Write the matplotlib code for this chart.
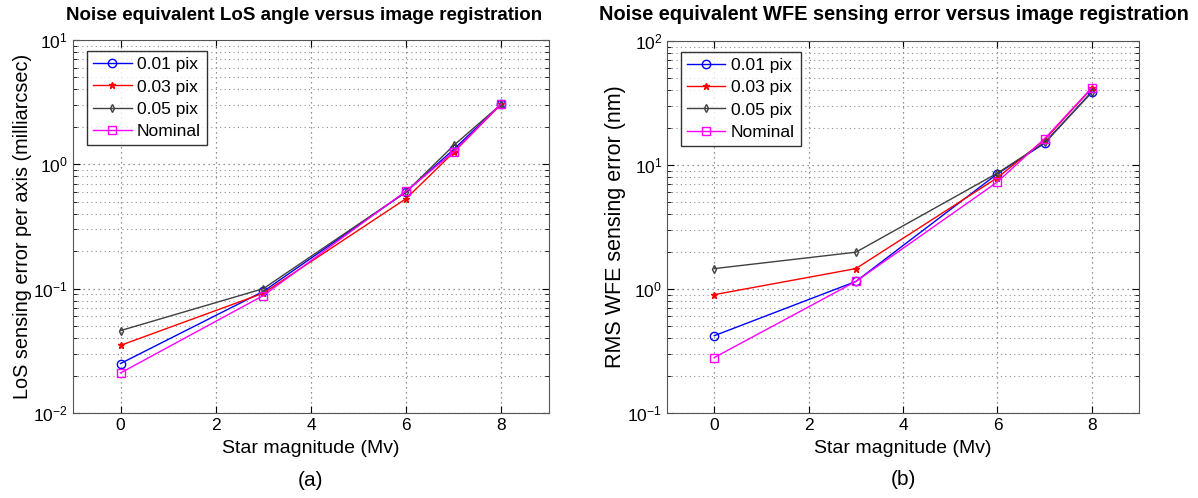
import matplotlib
matplotlib.use("Agg")
import matplotlib.pyplot as plt
from matplotlib.ticker import LogLocator, NullFormatter

plt.rcParams["font.family"] = ["Liberation Sans", "DejaVu Sans"]
plt.rcParams["mathtext.default"] = "regular"

# star magnitudes (x)
mags = [0, 3, 6, 7, 8]
labels = ["0.01 pix", "0.03 pix", "0.05 pix", "Nominal"]

# (a) LoS sensing error per axis (milliarcsec)
los_001 = [0.025, 0.095, 0.60, 1.32, 3.05]
los_003 = [0.035, 0.092, 0.53, 1.25, 3.05]
los_005 = [0.046, 0.100, 0.60, 1.42, 3.05]
los_nom = [0.021, 0.088, 0.61, 1.26, 3.08]

# (b) RMS WFE sensing error (nm)
wfe_001 = [0.42, 1.15, 8.5, 15.0, 39.0]
wfe_003 = [0.90, 1.46, 7.9, 16.0, 41.5]
wfe_005 = [1.46, 1.98, 8.6, 15.2, 38.5]
wfe_nom = [0.28, 1.15, 7.3, 16.3, 42.0]

styles = [
    dict(color="blue", marker="o", mfc="none", ms=6),
    dict(color="red", marker="*", ms=5),
    dict(color="#404040", marker="d", mfc="none", ms=4),
    dict(color="magenta", marker="s", mfc="none", ms=6),
]


def draw_panel(ax, series, ylim, ylabel, ylabel_size, caption):
    for vals, lab, st in zip(series, labels, styles):
        ax.plot(mags, vals, lw=1.0, label=lab, **st)
    ax.set_yscale("log")
    ax.set_xlim(-1, 9)
    ax.set_ylim(*ylim)
    ax.set_xticks([0, 2, 4, 6, 8])
    ax.yaxis.set_major_locator(LogLocator(base=10))
    ax.yaxis.set_minor_locator(LogLocator(base=10, subs=range(2, 10)))
    ax.yaxis.set_minor_formatter(NullFormatter())
    ax.tick_params(which="both", direction="in", top=True, right=True,
                   labelsize=12.5)
    ax.tick_params(which="major", length=5)
    ax.tick_params(which="minor", length=3)
    ax.grid(True, which="major", ls=(0, (1, 3)), color="#707070", lw=0.9)
    ax.grid(True, which="minor", axis="y", ls=(0, (1, 3)), color="#909090",
            lw=0.8)
    for s in ax.spines.values():
        s.set_color("#555555")
    ax.set_ylabel(ylabel, fontsize=ylabel_size)
    ax.yaxis.set_label_coords(-0.086, 0.5)
    ax.set_xlabel(caption[0], fontsize=14, labelpad=5)
    leg = ax.legend(loc="upper left", bbox_to_anchor=(0.03, 0.97),
                    fontsize=12.5, fancybox=False, edgecolor="black",
                    handlelength=2.2, handletextpad=0.3, borderpad=0.35,
                    labelspacing=0.4, borderaxespad=0)
    leg.get_frame().set_linewidth(1.0)
    ax.text(0.5, -0.18, caption[1], transform=ax.transAxes,
            ha="center", va="center", fontsize=15)


fig = plt.figure(figsize=(11.98, 4.98), dpi=100)
ax1 = fig.add_axes([0.0609, 0.1707, 0.3973, 0.749])
ax2 = fig.add_axes([0.5568, 0.1707, 0.394, 0.747])

draw_panel(ax1, [los_001, los_003, los_005, los_nom], (1e-2, 1e1),
           "LoS sensing error per axis (milliarcsec)", 14.3,
           ("Star magnitude (Mv)", "(a)"))
draw_panel(ax2, [wfe_001, wfe_003, wfe_005, wfe_nom], (1e-1, 1e2),
           "RMS WFE sensing error (nm)", 15.5,
           ("Star magnitude (Mv)", "(b)"))

fig.text(304 / 1198, 1 - 15 / 498,
         "Noise equivalent LoS angle versus image registration",
         ha="center", va="center", fontsize=13.5, fontweight="bold")
fig.text(599 / 1198, 1 - 15 / 498,
         "Noise equivalent WFE sensing error versus image registration",
         ha="left", va="center", fontsize=14.4, fontweight="bold")

fig.savefig("out.png", dpi=100)
